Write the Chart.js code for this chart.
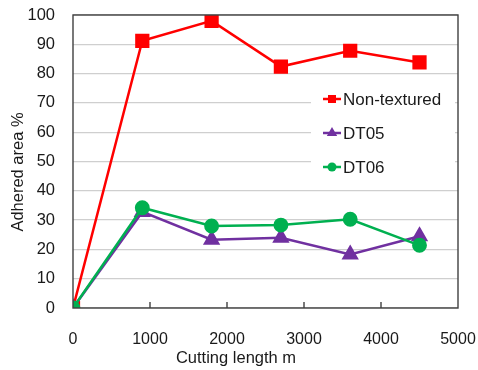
<!DOCTYPE html>
<html>
<head>
<meta charset="utf-8">
<script src="https://cdn.jsdelivr.net/npm/chart.js"></script>
<style>
  body { margin: 0; background: #fff; }
</style>
</head>
<body>
<canvas id="adhesionChart" width="478" height="370"></canvas>
<script>
// cutting length (m) and adhered area (%)
const lengths = [0, 900, 1800, 2700, 3600, 4500];
const nonTextured = [0, 91.2, 98.0, 82.4, 87.8, 83.8];
const dt05 = [0, 32.8, 23.3, 24.0, 18.3, 24.5];
const dt06 = [0, 34.2, 28.0, 28.3, 30.3, 21.4];
const seriesNames = ["Non-textured", "DT05", "DT06"];
const xTickRange = [0, 5000, 1000];
const yTickRange = [0, 100, 10];

const FONT = "'Liberation Sans', Arial, sans-serif";
const TEXT = "#1a1a1a";

const toPoints = (vals) => vals.map((v, i) => ({ x: lengths[i], y: v }));

// legend is drawn by hand inside the plot area, like the original
const legendItems = [
  { name: seriesNames[0], color: "#ff0000", shape: "rect", r: 4 },
  { name: seriesNames[1], color: "#7030a0", shape: "triangle", r: 6 },
  { name: seriesNames[2], color: "#00b050", shape: "circle", r: 4.5 },
];

function drawMarker(ctx, shape, x, y, r) {
  ctx.beginPath();
  if (shape === "rect") {
    ctx.rect(x - r, y - r, 2 * r, 2 * r);
  } else if (shape === "triangle") {
    ctx.moveTo(x, y - r);
    ctx.lineTo(x + r * 0.866, y + r * 0.5);
    ctx.lineTo(x - r * 0.866, y + r * 0.5);
    ctx.closePath();
  } else {
    ctx.arc(x, y, r, 0, Math.PI * 2);
  }
  ctx.fill();
}

const decorPlugin = {
  id: "decor",
  beforeDatasetsDraw(chart) {
    const ctx = chart.ctx;
    ctx.save();
    ctx.fillStyle = "#ffffff";
    ctx.fillRect(311, 84, 144, 100);
    ctx.restore();
  },
  afterDatasetsDraw(chart) {
    const ctx = chart.ctx;
    ctx.save();
    legendItems.forEach((item, i) => {
      const y = 99 + i * 34;
      ctx.strokeStyle = item.color;
      ctx.fillStyle = item.color;
      ctx.lineWidth = 2.5;
      ctx.beginPath();
      ctx.moveTo(323, y);
      ctx.lineTo(341, y);
      ctx.stroke();
      drawMarker(ctx, item.shape, 332, y, item.r);
      ctx.fillStyle = TEXT;
      ctx.font = "17px " + FONT;
      ctx.textBaseline = "middle";
      ctx.textAlign = "left";
      ctx.fillText(item.name, 343, y + 1);
    });
    ctx.restore();
  },
  afterDraw(chart) {
    const ctx = chart.ctx;
    const a = chart.chartArea;
    const xs = chart.scales.x;
    ctx.save();
    ctx.strokeStyle = "#404040";
    ctx.lineWidth = 1.4;
    ctx.strokeRect(a.left, a.top, a.right - a.left, a.bottom - a.top);
    // inward tick marks on the x axis
    xs.ticks.forEach((t) => {
      if (t.value <= xs.min || t.value >= xs.max) return;
      const px = xs.getPixelForValue(t.value);
      ctx.beginPath();
      ctx.moveTo(px, a.bottom);
      ctx.lineTo(px, a.bottom - 6);
      ctx.stroke();
    });
    // axis titles
    ctx.fillStyle = TEXT;
    ctx.font = "16.5px " + FONT;
    ctx.textAlign = "center";
    ctx.textBaseline = "middle";
    ctx.fillText("Cutting length m", 236, 358);
    ctx.translate(18, 172);
    ctx.rotate(-Math.PI / 2);
    ctx.fillText("Adhered area %", 0, 0);
    ctx.restore();
  },
};

new Chart(document.getElementById("adhesionChart"), {
  type: "line",
  data: {
    datasets: [
      {
        label: seriesNames[0],
        data: toPoints(nonTextured),
        borderColor: "#ff0000",
        backgroundColor: "#ff0000",
        borderWidth: 2.5,
        pointStyle: "rect",
        pointRadius: 8.3,
        pointHoverRadius: 8.3,
        order: 3,
      },
      {
        label: seriesNames[1],
        data: toPoints(dt05),
        borderColor: "#7030a0",
        backgroundColor: "#7030a0",
        borderWidth: 2.5,
        pointStyle: "triangle",
        pointRadius: 7.5,
        pointHoverRadius: 7.5,
        order: 2,
      },
      {
        label: seriesNames[2],
        data: toPoints(dt06),
        borderColor: "#00b050",
        backgroundColor: "#00b050",
        borderWidth: 2.5,
        pointStyle: "circle",
        pointRadius: 6.2,
        pointHoverRadius: 6.2,
        order: 1,
      },
    ],
  },
  options: {
    responsive: false,
    animation: false,
    devicePixelRatio: 1,
    layout: { padding: { left: 0, right: 20, top: 15, bottom: 0 } },
    plugins: {
      legend: { display: false },
      tooltip: { enabled: false },
    },
    scales: {
      x: {
        type: "linear",
        min: xTickRange[0],
        max: xTickRange[1],
        ticks: {
          stepSize: xTickRange[2],
          padding: 22,
          color: TEXT,
          font: { family: FONT, size: 16 },
          maxRotation: 0,
          callback: (v) => String(v),
        },
        grid: { display: false, drawTicks: false },
        border: { display: false },
        afterFit: (s) => {
          s.height = 62;
          s.paddingLeft = 0;
          s.paddingRight = 0;
        },
      },
      y: {
        min: yTickRange[0],
        max: yTickRange[1],
        ticks: {
          stepSize: yTickRange[2],
          padding: 18,
          color: TEXT,
          font: { family: FONT, size: 16.5 },
        },
        grid: { color: "#cfcfcf", lineWidth: 1.3, drawTicks: false },
        border: { display: false },
        afterFit: (s) => {
          s.width = 73;
          s.paddingTop = 0;
          s.paddingBottom = 0;
        },
      },
    },
  },
  plugins: [decorPlugin],
});
</script>
</body>
</html>
